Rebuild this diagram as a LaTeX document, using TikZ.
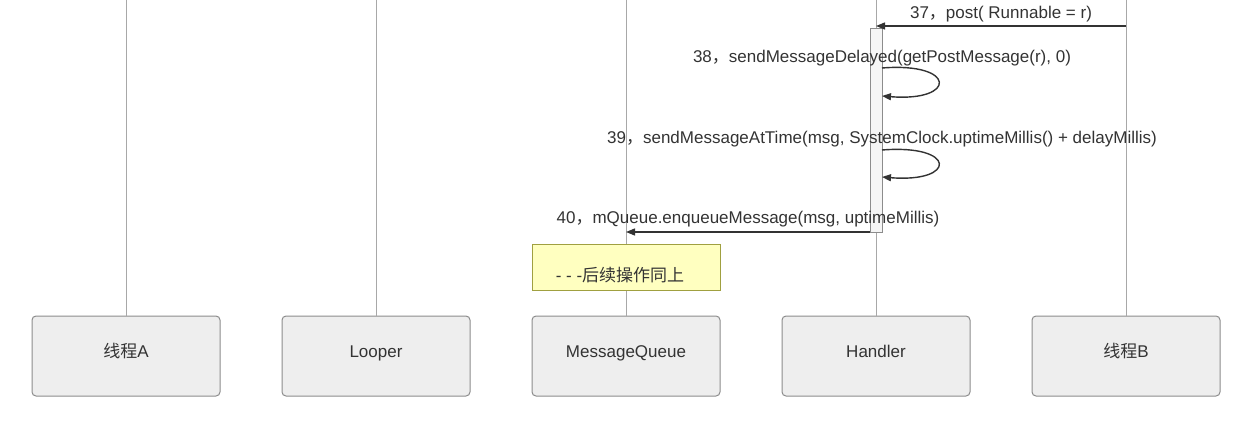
\documentclass[tikz,border=0pt]{standalone}
\usepackage{fontspec}
\setmainfont{Liberation Sans}
\newfontfamily\cjk{Noto Sans CJK SC}
\usetikzlibrary{arrows.meta}
\definecolor{lifec}{HTML}{A8A8A8}
\definecolor{boxfill}{HTML}{EEEEEE}
\definecolor{boxdraw}{HTML}{8C8C8C}
\definecolor{txt}{HTML}{333333}
\definecolor{notefill}{HTML}{FFFFC0}
\definecolor{notedraw}{HTML}{A0A040}
\tikzset{
  x=1pt,y=-1pt,
  actor/.style={draw=boxdraw,fill=boxfill,line width=1pt,rounded corners=4pt,minimum width=188pt,minimum height=80pt,inner sep=0pt,text=txt,font=\fontsize{17}{19}\selectfont,text height=12pt,text depth=9pt},
  life/.style={draw=lifec,line width=1pt},
  msg/.style={draw=txt,line width=1.4pt,-{Triangle[length=9pt,width=7pt]}},
  lbl/.style={text=txt,font=\fontsize{17}{19}\selectfont,inner sep=0pt},
  act/.style={draw=boxdraw,fill=black!4,line width=0.8pt},
}
\begin{document}
\begin{tikzpicture}
\useasboundingbox (0,0) rectangle (1258,434);
% actors
\node[actor] (A) at (126,356) {{\cjk 线程}A};
\node[actor] (L) at (376,356) {Looper};
\node[actor] (Q) at (626,356) {MessageQueue};
\node[actor] (H) at (876,356) {Handler};
\node[actor] (B) at (1126,356) {{\cjk 线程}B};
% lifelines
\coordinate (At) at (126,0);
\coordinate (Lt) at (376,0);
\coordinate (Qt) at (626,0);
\coordinate (Ht) at (876,0);
\coordinate (Bt) at (1126,0);
\draw[life] (At) -- (A.north);
\draw[life] (Lt) -- (L.north);
\draw[life] (Qt) -- (Q.north);
\draw[life] (Ht) -- (H.north);
\draw[life] (Bt) -- (B.north);
% activation
\draw[act] (870,28) rectangle (882,232);
% note
\node[draw=notedraw,fill=notefill,line width=0.8pt,minimum width=188pt,minimum height=46pt,inner sep=0pt] (N) at (626,267) {};
\node[lbl,anchor=base] (Nt) at (620,281) {- - -{\cjk 后续操作同上}};
% message 37
\coordinate (m37s) at (1126,26);
\coordinate (m37e) at (876,26);
\draw[msg] (m37s) -- (m37e);
\node[lbl,anchor=base] (l37) at (1001,18) {37{\cjk ，}post( Runnable = r)};
% message 38
\coordinate (m38s) at (882,68);
\coordinate (m38e) at (882,96);
\draw[msg] (m38s) .. controls (957,62) and (957,102) .. (m38e);
\node[lbl,anchor=base] (l38) at (882,62) {38{\cjk ，}sendMessageDelayed(getPostMessage(r), 0)};
% message 39
\coordinate (m39s) at (882,150);
\coordinate (m39e) at (882,177);
\draw[msg] (m39s) .. controls (957,144) and (957,183) .. (m39e);
\node[lbl,anchor=base] (l39) at (882,143) {39{\cjk ，}sendMessageAtTime(msg, SystemClock.uptimeMillis() + delayMillis)};
% message 40
\coordinate (m40s) at (870,232);
\coordinate (m40e) at (626,232);
\draw[msg] (m40s) -- (m40e);
\node[lbl,anchor=base] (l40) at (748,223) {40{\cjk ，}mQueue.enqueueMessage(msg, uptimeMillis)};
\end{tikzpicture}
\end{document}
